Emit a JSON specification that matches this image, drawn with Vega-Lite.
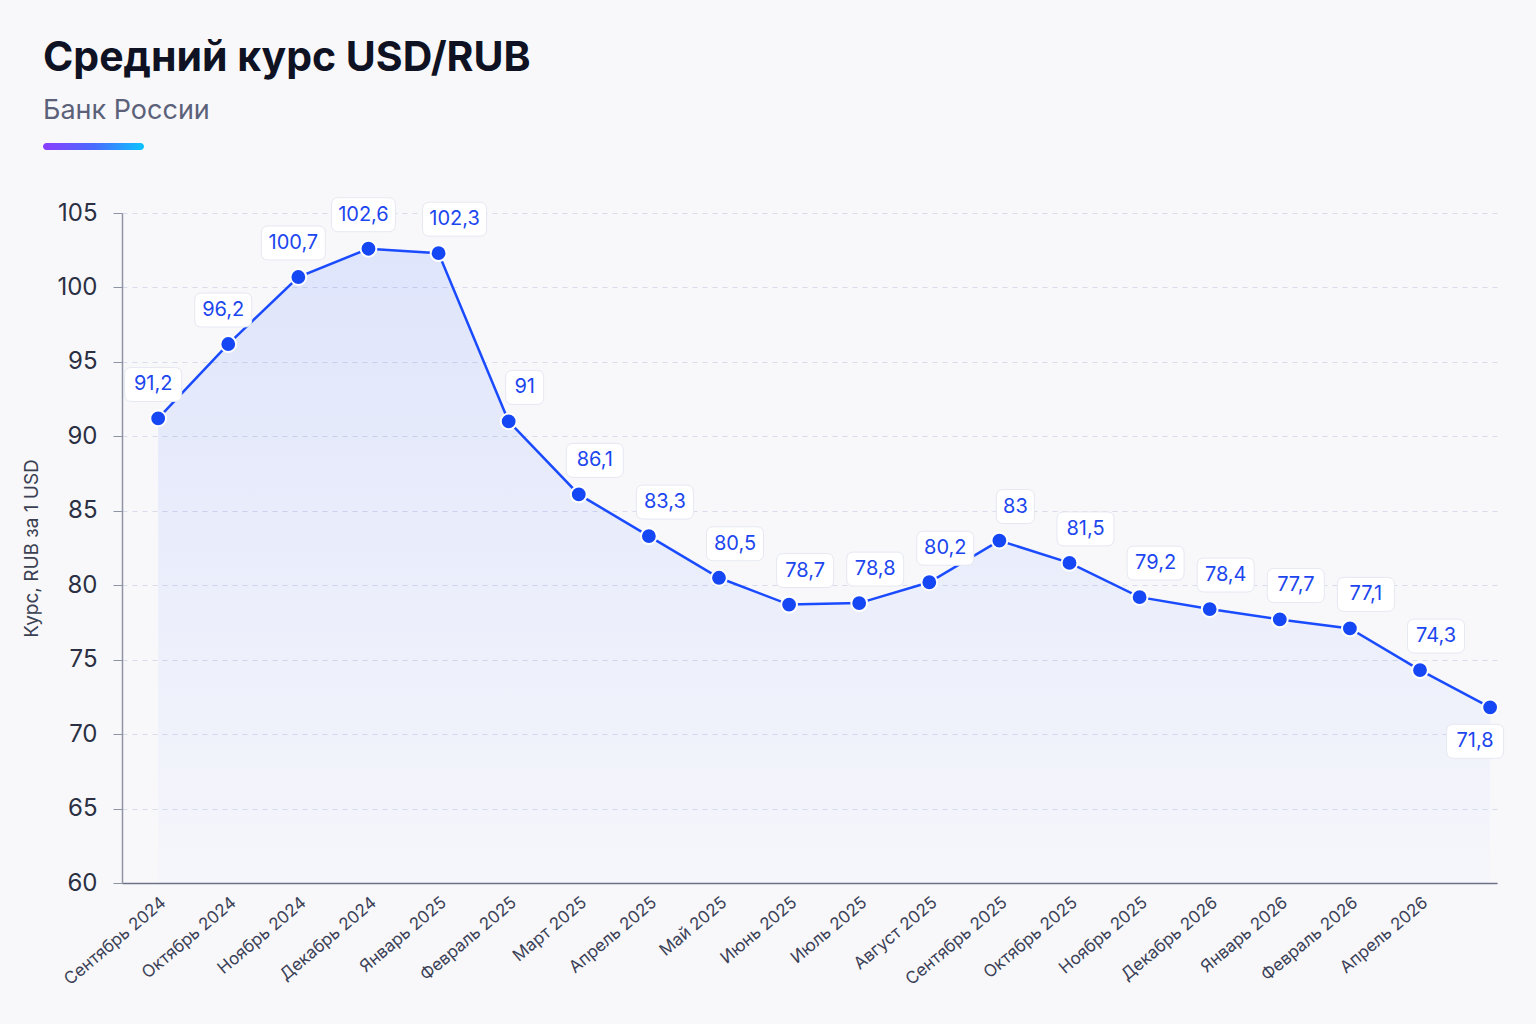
{
  "$schema": "https://vega.github.io/schema/vega-lite/v6.json",
  "background": "#f8f8fb",
  "padding": {"left": 22, "top": 38, "right": 39, "bottom": 38},
  "title": {
    "text": "Средний курс USD/RUB",
    "subtitle": "Банк России",
    "anchor": "start",
    "frame": "bounds",
    "dx": 20,
    "font": "Inter",
    "fontSize": 41,
    "fontWeight": 700,
    "color": "#0f1222",
    "subtitleFont": "Inter",
    "subtitleFontSize": 27,
    "subtitleColor": "#5b6178",
    "subtitlePadding": 18,
    "offset": 18
  },
  "datasets": {
    "rates": [
      {"m": "Сентябрь 2024", "v": 91.2},
      {"m": "Октябрь 2024", "v": 96.2},
      {"m": "Ноябрь 2024", "v": 100.7},
      {"m": "Декабрь 2024", "v": 102.6},
      {"m": "Январь 2025", "v": 102.3},
      {"m": "Февраль 2025", "v": 91},
      {"m": "Март 2025", "v": 86.1},
      {"m": "Апрель 2025", "v": 83.3},
      {"m": "Май 2025", "v": 80.5},
      {"m": "Июнь 2025", "v": 78.7},
      {"m": "Июль 2025", "v": 78.8},
      {"m": "Август 2025", "v": 80.2},
      {"m": "Сентябрь 2025", "v": 83},
      {"m": "Октябрь 2025", "v": 81.5},
      {"m": "Ноябрь 2025", "v": 79.2},
      {"m": "Декабрь 2026", "v": 78.4},
      {"m": "Январь 2026", "v": 77.7},
      {"m": "Февраль 2026", "v": 77.1},
      {"m": "Апрель 2026", "v": 74.3},
      {"m": "", "v": 71.8}
    ]
  },
  "spacing": 45,
  "vconcat": [
    {
      "width": 101,
      "height": 7,
      "data": {"values": [{}]},
      "mark": {
        "type": "rect",
        "cornerRadius": 3.5,
        "fill": {
          "gradient": "linear",
          "x1": 0, "y1": 0, "x2": 1, "y2": 0,
          "stops": [
            {"offset": 0, "color": "#8b3dff"},
            {"offset": 0.5, "color": "#4a6bff"},
            {"offset": 1, "color": "#0bc3ff"}
          ]
        }
      },
      "encoding": {"x": {"value": -79}, "x2": {"value": 22}}
    },
    {
      "width": 1375,
      "height": 670,
      "data": {"name": "rates"},
      "encoding": {
        "x": {
          "field": "m",
          "type": "nominal",
          "sort": null,
          "scale": {"type": "point", "padding": 0.307, "align": 0.84},
          "axis": {
            "title": null,
            "labelAngle": -40,
            "labelFont": "Inter",
            "labelFontSize": 17,
            "labelColor": "#3b4156",
            "labelPadding": 11,
            "ticks": false,
            "domainColor": "#6c7286",
            "domainWidth": 1.5,
            "grid": false
          }
        },
        "y": {
          "field": "v",
          "type": "quantitative",
          "scale": {"domain": [60, 105], "nice": false, "zero": false},
          "axis": {
            "values": [60, 65, 70, 75, 80, 85, 90, 95, 100, 105],
            "title": "Курс, RUB за 1 USD",
            "titleFont": "Inter",
            "titleFontSize": 19,
            "titleFontWeight": 400,
            "titleColor": "#3b4152",
            "titlePadding": 15,
            "labelFont": "Inter",
            "labelFontSize": 24,
            "labelColor": "#2b3043",
            "labelPadding": 16,
            "tickSize": 9,
            "tickColor": "#8e94a4",
            "domainColor": "#8e94a4",
            "domainWidth": 1.5,
            "grid": true,
            "gridColor": "#d8dbea",
            "gridDash": [5, 5],
            "gridWidth": 1
          }
        }
      },
      "layer": [
        {
          "mark": {
            "type": "area",
            "fill": {
              "gradient": "linear",
              "x1": 0, "y1": 0, "x2": 0, "y2": 1,
              "stops": [
                {"offset": 0, "color": "rgba(40,90,255,0.12)"},
                {"offset": 1, "color": "rgba(40,90,255,0.01)"}
              ]
            }
          },
          "encoding": {"y2": {"datum": 60}}
        },
        {
          "mark": {"type": "line", "color": "#1a4bff", "strokeWidth": 2.5}
        },
        {
          "mark": {"type": "point", "filled": true, "fill": "#1647f5", "stroke": "#ffffff", "strokeWidth": 2, "size": 250, "opacity": 1}
        },
        {
          "transform": [{"filter": "indexof(['Сентябрь 2024','Октябрь 2024','Ноябрь 2024','Декабрь 2024'], datum.m) >= 0"}],
          "mark": {"type": "point", "filled": true, "fill": "#ffffff", "stroke": "#e6e8f2", "strokeWidth": 1, "opacity": 1, "xOffset": -5, "yOffset": -34},
          "encoding": {
            "shape": {
              "condition": [
                {"test": "datum.v % 1 === 0", "value": "M-0.632,-0.895 L0.632,-0.895 Q1,-0.895 1,-0.527 L1,0.527 Q1,0.895 0.632,0.895 L-0.632,0.895 Q-1,0.895 -1,0.527 L-1,-0.527 Q-1,-0.895 -0.632,-0.895 Z"},
                {"test": "datum.v >= 100", "value": "M-0.781,-0.531 L0.781,-0.531 Q1,-0.531 1,-0.312 L1,0.312 Q1,0.531 0.781,0.531 L-0.781,0.531 Q-1,0.531 -1,0.312 L-1,-0.312 Q-1,-0.531 -0.781,-0.531 Z"}
              ],
              "value": "M-0.754,-0.596 L0.754,-0.596 Q1,-0.596 1,-0.35 L1,0.35 Q1,0.596 0.754,0.596 L-0.754,0.596 Q-1,0.596 -1,0.35 L-1,-0.35 Q-1,-0.596 -0.754,-0.596 Z"
            },
            "size": {
              "condition": [
                {"test": "datum.v % 1 === 0", "value": 1444},
                {"test": "datum.v >= 100", "value": 4096}
              ],
              "value": 3249
            }
          }
        },
        {
          "transform": [{"filter": "indexof(['Сентябрь 2024','Октябрь 2024','Ноябрь 2024','Декабрь 2024'], datum.m) >= 0"}],
          "mark": {"type": "text", "font": "Inter", "fontSize": 20, "color": "#1c46ee", "dx": -5, "dy": -34, "baseline": "middle"},
          "encoding": {"text": {"field": "v", "type": "quantitative", "format": ".1~f"}}
        },
        {
          "transform": [{"filter": "indexof(['Сентябрь 2024','Октябрь 2024','Ноябрь 2024','Декабрь 2024'], datum.m) < 0 && datum.m !== ''"}],
          "mark": {"type": "point", "filled": true, "fill": "#ffffff", "stroke": "#e6e8f2", "strokeWidth": 1, "opacity": 1, "xOffset": 16, "yOffset": -34},
          "encoding": {
            "shape": {
              "condition": [
                {"test": "datum.v % 1 === 0", "value": "M-0.632,-0.895 L0.632,-0.895 Q1,-0.895 1,-0.527 L1,0.527 Q1,0.895 0.632,0.895 L-0.632,0.895 Q-1,0.895 -1,0.527 L-1,-0.527 Q-1,-0.895 -0.632,-0.895 Z"},
                {"test": "datum.v >= 100", "value": "M-0.781,-0.531 L0.781,-0.531 Q1,-0.531 1,-0.312 L1,0.312 Q1,0.531 0.781,0.531 L-0.781,0.531 Q-1,0.531 -1,0.312 L-1,-0.312 Q-1,-0.531 -0.781,-0.531 Z"}
              ],
              "value": "M-0.754,-0.596 L0.754,-0.596 Q1,-0.596 1,-0.35 L1,0.35 Q1,0.596 0.754,0.596 L-0.754,0.596 Q-1,0.596 -1,0.35 L-1,-0.35 Q-1,-0.596 -0.754,-0.596 Z"
            },
            "size": {
              "condition": [
                {"test": "datum.v % 1 === 0", "value": 1444},
                {"test": "datum.v >= 100", "value": 4096}
              ],
              "value": 3249
            }
          }
        },
        {
          "transform": [{"filter": "indexof(['Сентябрь 2024','Октябрь 2024','Ноябрь 2024','Декабрь 2024'], datum.m) < 0 && datum.m !== ''"}],
          "mark": {"type": "text", "font": "Inter", "fontSize": 20, "color": "#1c46ee", "dx": 16, "dy": -34, "baseline": "middle"},
          "encoding": {"text": {"field": "v", "type": "quantitative", "format": ".1~f"}}
        },
        {
          "transform": [{"filter": "datum.m === ''"}],
          "mark": {"type": "point", "filled": true, "fill": "#ffffff", "stroke": "#e6e8f2", "strokeWidth": 1, "opacity": 1, "xOffset": -15, "yOffset": 34, "size": 3249, "shape": "M-0.754,-0.596 L0.754,-0.596 Q1,-0.596 1,-0.35 L1,0.35 Q1,0.596 0.754,0.596 L-0.754,0.596 Q-1,0.596 -1,0.35 L-1,-0.35 Q-1,-0.596 -0.754,-0.596 Z"}
        },
        {
          "transform": [{"filter": "datum.m === ''"}],
          "mark": {"type": "text", "font": "Inter", "fontSize": 20, "color": "#1c46ee", "dx": -15, "dy": 34, "baseline": "middle"},
          "encoding": {"text": {"field": "v", "type": "quantitative", "format": ".1~f"}}
        }
      ]
    }
  ],
  "config": {
    "view": {"stroke": null},
    "locale": {"number": {"decimal": ",", "thousands": "\u00a0", "grouping": [3], "currency": ["", " ₽"]}}
  }
}
